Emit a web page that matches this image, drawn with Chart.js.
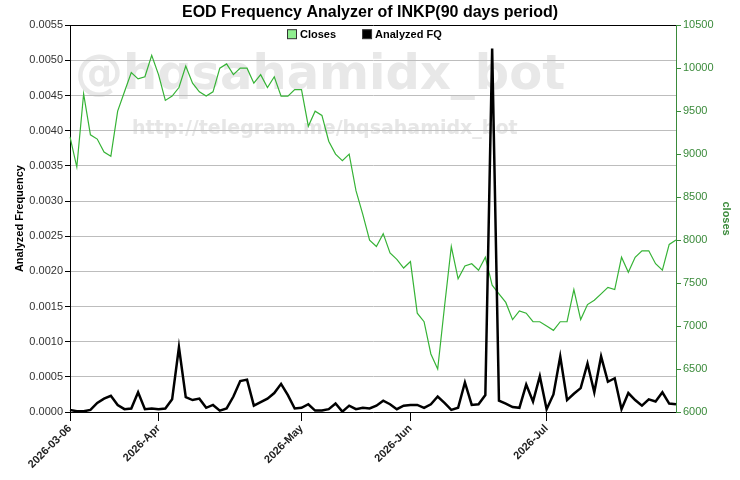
<!DOCTYPE html>
<html>
<head>
<meta charset="UTF-8">
<title>EOD Frequency Analyzer of INKP</title>
<script src="https://cdn.jsdelivr.net/npm/chart.js"></script>
<style>
  body { margin: 0; background: #fff; }
  #wrap { width: 740px; height: 480px; }
</style>
</head>
<body>
<div id="wrap"><canvas id="chart" width="740" height="480"></canvas></div>
<script>
// Data (90 trading days)
const closes = [
  9200, 8850, 9700, 9225, 9175, 9025, 8975, 9500, 9725, 9950,
  9875, 9900, 10150, 9925, 9625, 9675, 9775, 10025, 9825, 9725,
  9675, 9725, 10000, 10050, 9925, 10000, 10000, 9825, 9925, 9775,
  9900, 9675, 9675, 9750, 9750, 9325, 9500, 9450, 9150, 9000,
  8925, 9000, 8575, 8300, 8000, 7925, 8075, 7850, 7775, 7675,
  7750, 7150, 7050, 6675, 6500, 7225, 7925, 7550, 7700, 7725,
  7650, 7800, 7475, 7375, 7275, 7075, 7175, 7150, 7050, 7050,
  7000, 6950, 7050, 7050, 7425, 7075, 7250, 7300, 7375, 7450,
  7425, 7800, 7625, 7800, 7875, 7875, 7725, 7650, 7950, 8000
];
const analyzedFQ = [
  0.00003, 0.00001, 0.00001, 0.00003, 0.00013, 0.00019, 0.00023, 0.00010, 0.00004, 0.00005,
  0.00028, 0.00004, 0.00005, 0.00004, 0.00005, 0.00018, 0.00092, 0.00021, 0.00017, 0.00019,
  0.00006, 0.00010, 0.00002, 0.00005, 0.00022, 0.00044, 0.00046, 0.00009, 0.00014, 0.00019,
  0.00027, 0.00040, 0.00024, 0.00005, 0.00006, 0.00011, 0.00002, 0.00002, 0.00004, 0.00012,
  0.000005, 0.00009, 0.00004, 0.00006, 0.00005, 0.00009, 0.00016, 0.00011, 0.00004, 0.00009,
  0.00010, 0.00010, 0.00006, 0.00011, 0.00022, 0.00013, 0.00003, 0.00006, 0.00042, 0.00010,
  0.00011, 0.00024, 0.00517, 0.00016, 0.00012, 0.00007, 0.00006, 0.00039, 0.00015, 0.00051,
  0.00004, 0.00025, 0.00079, 0.00017, 0.00026, 0.00034, 0.00069, 0.00028, 0.00079, 0.00043,
  0.00048, 0.00004, 0.00027, 0.00017, 0.00009, 0.00018, 0.00015, 0.00028, 0.00012, 0.00011
];
// x tick labels and the trading-day index they sit on
const tickIdx = [0, 13, 34, 50, 70];
const tickText = ['2026-03-06', '2026-Apr', '2026-May', '2026-Jun', '2026-Jul'];

const FONT = "'Liberation Sans', Arial, sans-serif";
const GREEN_LINE = '#36b336';
const GREEN_AXIS = '#3a8a3a';

// light watermark text behind the plot
const watermark = {
  id: 'watermark',
  beforeDraw(chart) {
    const c = chart.ctx;
    c.save();
    c.fillStyle = '#fff';
    c.fillRect(0, 0, chart.width, chart.height);
    c.textAlign = 'left';
    c.textBaseline = 'alphabetic';
    c.fillStyle = '#e8e8e8';
    c.font = "bold 48px 'DejaVu Sans', sans-serif";
    c.fillText('@hqsahamidx_bot', 75, 89);
    c.fillStyle = '#e6e6e6';
    c.font = "bold 19px 'DejaVu Sans', sans-serif";
    c.fillText('http://telegram.me/hqsahamidx_bot', 132, 134);
    c.restore();
  }
};

// horizontal legend sitting inside the top of the plot
const topLegend = {
  id: 'topLegend',
  afterDraw(chart) {
    const c = chart.ctx;
    const y = chart.chartArea.top + 9;
    let x = 287;
    c.save();
    c.font = 'bold 11px ' + FONT;
    c.textBaseline = 'middle';
    c.textAlign = 'left';
    // legend order: Closes, then Analyzed FQ
    [chart.data.datasets[1], chart.data.datasets[0]].forEach(ds => {
      c.fillStyle = ds.backgroundColor;
      c.fillRect(x + 0.5, y - 4.5, 9, 9);
      c.strokeStyle = '#333';
      c.lineWidth = 1;
      c.strokeRect(x + 0.5, y - 4.5, 9, 9);
      c.fillStyle = '#000';
      c.fillText(ds.label, x + 13, y + 0.5);
      x += 13 + c.measureText(ds.label).width + 26;
    });
    c.restore();
  }
};

new Chart(document.getElementById('chart'), {
  type: 'line',
  data: {
    labels: closes.map((_, i) => i),
    datasets: [
      {
        label: 'Analyzed FQ',
        data: analyzedFQ,
        yAxisID: 'y',
        borderColor: '#000',
        backgroundColor: '#000',
        borderWidth: 2.5,
        pointRadius: 0,
        tension: 0
      },
      {
        label: 'Closes',
        data: closes,
        yAxisID: 'y1',
        borderColor: GREEN_LINE,
        backgroundColor: '#90ee90',
        borderWidth: 1.2,
        pointRadius: 0,
        tension: 0
      }
    ]
  },
  options: {
    responsive: false,
    animation: false,
    layout: { padding: 0 },
    plugins: {
      title: {
        display: true,
        text: 'EOD Frequency Analyzer of INKP(90 days period)',
        color: '#000',
        font: { family: FONT, size: 16, weight: 'bold' },
        padding: { top: 3, bottom: 3 }
      },
      legend: { display: false },
      tooltip: { enabled: false }
    },
    scales: {
      x: {
        type: 'category',
        offset: false,
        border: { color: '#000', width: 1 },
        grid: {
          drawOnChartArea: false,
          tickLength: 9,
          tickColor: ctx => tickIdx.includes(ctx.index) ? '#000' : 'rgba(0,0,0,0)'
        },
        ticks: {
          autoSkip: false,
          minRotation: 45,
          maxRotation: 45,
          padding: 1,
          color: '#222',
          font: { family: FONT, size: 11, weight: 'bold' },
          callback: (v, i) => {
            const k = tickIdx.indexOf(i);
            return k >= 0 ? tickText[k] : '';
          }
        },
        afterFit: s => { s.height = 68; }
      },
      y: {
        position: 'left',
        min: 0,
        max: 0.0055,
        border: { color: '#000', width: 1 },
        grid: {
          color: ctx => (ctx.tick && ctx.tick.value > 0.00549) ? '#000' : '#bdbdbd',
          tickColor: '#000',
          tickLength: 5
        },
        ticks: {
          stepSize: 0.0005,
          padding: 2,
          color: '#333',
          font: { family: FONT, size: 11 },
          callback: v => v.toFixed(4)
        },
        title: {
          display: true,
          text: 'Analyzed Frequency',
          color: '#000',
          font: { family: FONT, size: 11, weight: 'bold' },
          padding: { top: 13 }
        },
        afterFit: s => { s.width = 70; }
      },
      y1: {
        position: 'right',
        min: 6000,
        max: 10500,
        border: { color: GREEN_AXIS, width: 1 },
        grid: {
          drawOnChartArea: false,
          tickColor: GREEN_AXIS,
          tickLength: 5
        },
        ticks: {
          stepSize: 500,
          padding: 2,
          color: GREEN_AXIS,
          font: { family: FONT, size: 11 },
          callback: v => String(v)
        },
        title: {
          display: true,
          text: 'closes',
          color: GREEN_AXIS,
          font: { family: FONT, size: 11, weight: 'bold' },
          padding: { top: 7 }
        },
        afterFit: s => { s.width = 64; }
      }
    }
  },
  plugins: [watermark, topLegend]
});
</script>
</body>
</html>
